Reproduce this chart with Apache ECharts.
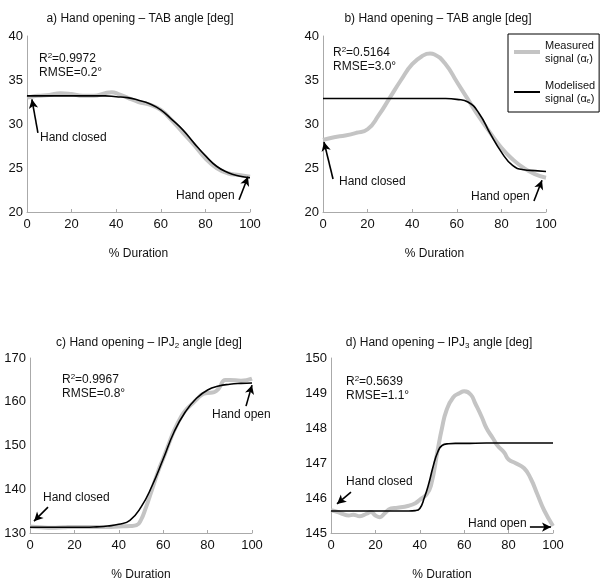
<!DOCTYPE html>
<html><head><meta charset="utf-8">
<script src="https://cdn.jsdelivr.net/npm/echarts@6/dist/echarts.min.js"></script>
<style>html,body{margin:0;padding:0;background:#fff}#c{width:600px;height:583px}</style>
</head><body><div id="c"></div>
<script>
// ---- data ----
const xTicks = [0, 20, 40, 60, 80, 100];

const aMeasX = [0,2,5,10,15,20,25,30,35,38,41,45,50,55,60,65,70,75,80,85,90,95,100];
const aMeasY = [33.0,33.1,33.2,33.3,33.5,33.4,33.2,33.2,33.5,33.6,33.4,33.0,32.5,32.2,31.6,30.4,29.0,27.6,26.1,25.0,24.4,24.2,24.0];
const aModX = [0,5,10,15,20,25,30,35,40,45,50,55,60,65,70,75,80,85,90,95,100];
const aModY = [33.2,33.2,33.2,33.2,33.2,33.2,33.2,33.2,33.1,33.0,32.7,32.3,31.6,30.5,29.3,27.8,26.4,25.2,24.5,24.1,23.9];

const bMeasX = [0,5,10,15,20,25,30,35,40,45,48,50,55,60,65,70,75,80,85,90,95,100];
const bMeasY = [28.2,28.5,28.7,29.0,29.4,31.0,33.0,35.0,36.8,37.8,38.0,37.9,36.8,34.8,32.8,30.8,29.0,27.3,26.0,25.0,24.3,23.9];
const bModX = [0,5,10,15,20,25,30,35,40,45,50,55,60,65,70,75,80,85,90,95,100];
const bModY = [32.9,32.9,32.9,32.9,32.9,32.9,32.9,32.9,32.9,32.9,32.9,32.9,32.8,32.5,31.2,28.9,26.8,25.3,24.8,24.7,24.6];

const cMeasX = [0,5,10,15,20,25,30,35,40,45,48,50,52,55,58,60,63,65,68,70,73,75,78,80,83,85,88,90,95,100];
const cMeasY = [131.5,131.3,131.2,131.3,131.4,131.4,131.4,131.4,131.5,131.6,131.8,133.0,135.5,140.0,144.5,147.0,151.0,153.5,156.5,158.0,159.5,160.5,161.8,162.0,162.2,163.0,165.0,165.0,164.8,165.3];
const cModX = [0,5,10,15,20,25,30,35,40,45,50,55,60,65,70,75,80,85,90,95,100];
const cModY = [131.3,131.3,131.3,131.3,131.3,131.3,131.4,131.6,132.0,132.9,135.9,140.8,146.9,153.2,157.7,160.8,162.7,163.6,164.0,164.2,164.3];

const dMeasX = [0,3,5,8,10,13,16,18,20,22,24,27,30,35,38,40,43,45,48,50,52,55,58,60,63,65,68,70,73,75,78,80,83,87,90,93,96,100];
const dMeasY = [145.65,145.6,145.55,145.5,145.52,145.48,145.55,145.6,145.5,145.45,145.55,145.7,145.72,145.78,145.85,145.95,146.1,146.35,147.35,148.0,148.5,148.87,149.0,149.05,148.95,148.7,148.3,148.0,147.7,147.5,147.3,147.1,147.0,146.85,146.55,146.1,145.65,145.2];
const dModX = [0,5,10,15,20,25,30,35,38,40,42,44,46,48,50,53,56,60,70,80,90,100];
const dModY = [145.63,145.63,145.63,145.63,145.63,145.63,145.63,145.63,145.64,145.7,146.0,146.4,146.9,147.3,147.5,147.55,147.56,147.56,147.57,147.57,147.57,147.57];

// annotation arrows in data coordinates: [tailX, tailY, tipX, tipY]
const aArrows = [[4.9, 29.0, 2.2, 32.8], [95.1, 21.4, 99.1, 24.0]];
const bArrows = [[4.5, 23.75, 0.45, 27.95], [94.6, 21.25, 98.2, 23.6]];
const cArrows = [[8.1, 135.9, 1.8, 132.7], [97.3, 159.0, 100, 163.8]];
const dArrows = [[9.0, 146.17, 2.7, 145.83], [89.6, 145.17, 99.1, 145.17]];

const titles = [
  'a) Hand opening \u2013 TAB angle [deg]',
  'b) Hand opening \u2013 TAB angle [deg]',
  'c) Hand opening \u2013 IPJ{sub|2} angle [deg]',
  'd) Hand opening \u2013 IPJ{sub|3} angle [deg]'
];
const stats = [
  ['R{sup|2}=0.9972', 'RMSE=0.2\u00b0'],
  ['R{sup|2}=0.5164', 'RMSE=3.0\u00b0'],
  ['R{sup|2}=0.9967', 'RMSE=0.8\u00b0'],
  ['R{sup|2}=0.5639', 'RMSE=1.1\u00b0']
];
const yRanges = [[20, 40, 5], [20, 40, 5], [130, 170, 10], [145, 150, 1]];

// ---- layout ----
const FONT = 'Liberation Sans, Arial, sans-serif';
const TXT = '#111';
const GRAY = '#c4c4c4';
const grids = [
  {left: 27, top: 36, width: 223, height: 176},
  {left: 323, top: 36, width: 223, height: 176},
  {left: 30, top: 358, width: 222, height: 175},
  {left: 331, top: 358, width: 222, height: 175}
];
const pairs = (xs, ys) => xs.map((x, i) => [x, ys[i]]);
const rich = {
  sub: {fontSize: 8, fontFamily: FONT, fill: TXT, color: TXT, padding: [6, 0, 0, 0]},
  sup: {fontSize: 8, fontFamily: FONT, fill: TXT, color: TXT, padding: [0, 0, 6, 0]}
};

const xAxis = grids.map((g, i) => ({
  gridIndex: i, type: 'value', min: 0, max: 100, interval: 20,
  name: '% Duration', nameLocation: 'middle', nameGap: 36,
  nameTextStyle: {fontSize: 12, color: TXT, fontFamily: FONT},
  axisLine: {lineStyle: {color: '#aaa', width: 1}},
  axisTick: {show: true, inside: true, length: 3, lineStyle: {color: '#aaa'}},
  axisLabel: {fontSize: 13, color: TXT, fontFamily: FONT, margin: 6},
  splitLine: {show: false}
}));
const yAxis = grids.map((g, i) => ({
  gridIndex: i, type: 'value', min: yRanges[i][0], max: yRanges[i][1], interval: yRanges[i][2],
  axisLine: {show: true, lineStyle: {color: '#aaa', width: 1}},
  axisTick: {show: false},
  axisLabel: {fontSize: 13, color: TXT, fontFamily: FONT, margin: 4},
  splitLine: {show: false}
}));

const measured = [pairs(aMeasX, aMeasY), pairs(bMeasX, bMeasY), pairs(cMeasX, cMeasY), pairs(dMeasX, dMeasY)];
const modelled = [pairs(aModX, aModY), pairs(bModX, bModY), pairs(cModX, cModY), pairs(dModX, dModY)];
const arrows = [aArrows, bArrows, cArrows, dArrows];

const series = [];
for (let i = 0; i < 4; i++) {
  series.push({
    name: 'Measured', type: 'line', xAxisIndex: i, yAxisIndex: i,
    data: measured[i], showSymbol: false, symbol: 'none', smooth: 0.5,
    lineStyle: {color: GRAY, width: 4}, itemStyle: {color: GRAY}, z: 2
  });
  series.push({
    name: 'Modelised', type: 'line', xAxisIndex: i, yAxisIndex: i,
    data: modelled[i], showSymbol: false, symbol: 'none', smooth: 0.5,
    lineStyle: {color: '#000', width: 1.6}, itemStyle: {color: '#000'}, z: 3,
    markLine: {
      silent: true, animation: false, symbol: ['none', 'arrow'], symbolSize: [7, 9],
      lineStyle: {color: '#000', width: 1.6, type: 'solid'}, label: {show: false},
      data: arrows[i].map(a => [{coord: [a[0], a[1]]}, {coord: [a[2], a[3]]}])
    }
  });
}

// graphic texts
const graphic = [];
const titlePos = [[140, 19], [438, 19], [149, 343], [439, 343]];
titles.forEach((t, i) => graphic.push({
  type: 'text', x: titlePos[i][0], y: titlePos[i][1],
  style: {text: t, fontSize: 12, fontFamily: FONT, fill: TXT, align: 'center', verticalAlign: 'middle', rich}
}));
const statPos = [[39, 59], [333, 53], [62, 380], [346, 382]];
stats.forEach((s, i) => {
  graphic.push({type: 'text', x: statPos[i][0], y: statPos[i][1],
    style: {text: s[0], fontSize: 12, fontFamily: FONT, fill: TXT, verticalAlign: 'middle', rich}});
  graphic.push({type: 'text', x: statPos[i][0], y: statPos[i][1] + 14,
    style: {text: s[1], fontSize: 12, fontFamily: FONT, fill: TXT, verticalAlign: 'middle'}});
});
const labelPos = [
  ['Hand closed', 40, 138], ['Hand open', 176, 196],
  ['Hand closed', 339, 182], ['Hand open', 471, 197],
  ['Hand closed', 43, 498], ['Hand open', 212, 415],
  ['Hand closed', 346, 482], ['Hand open', 468, 524]
];
labelPos.forEach(l => graphic.push({type: 'text', x: l[1], y: l[2],
  style: {text: l[0], fontSize: 12, fontFamily: FONT, fill: TXT, verticalAlign: 'middle'}}));

const chart = echarts.init(document.getElementById('c'), null, {renderer: 'canvas'});
chart.setOption({
  animation: false,
  backgroundColor: '#fff',
  grid: grids.map(g => Object.assign({containLabel: false, outerBoundsMode: 'none'}, g)),
  xAxis, yAxis, series, graphic,
  legend: {
    data: [
      {name: 'Measured', lineStyle: {color: GRAY, width: 4}},
      {name: 'Modelised', lineStyle: {color: '#000', width: 2}}
    ],
    orient: 'vertical', left: 508, top: 34,
    borderColor: '#000', borderWidth: 1, padding: [5, 4, 7, 4],
    itemWidth: 26, itemHeight: 12, itemGap: 14, selectedMode: false,
    itemStyle: {opacity: 0},
    formatter: n => n === 'Measured' ? 'Measured\nsignal (\u03b1{s|r})' : 'Modelised\nsignal (\u03b1{s|e})',
    textStyle: {fontSize: 11, fontFamily: FONT, color: TXT, lineHeight: 13, align: 'right', width: 50,
      rich: {s: {fontSize: 7, fontFamily: FONT, color: TXT, padding: [5, 0, 0, 0]}}}
  }
});
</script>
</body></html>
